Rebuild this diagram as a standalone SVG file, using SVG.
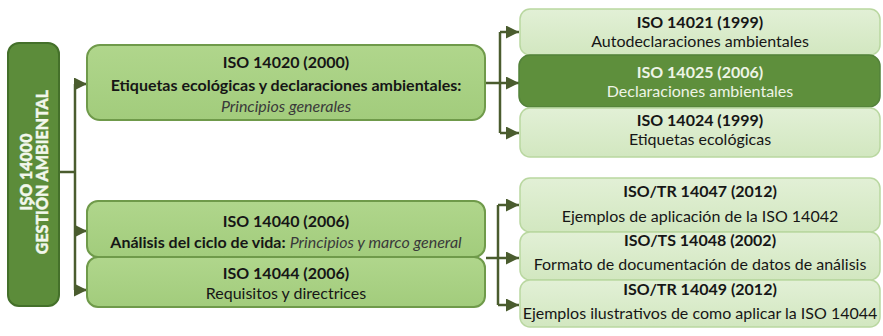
<svg xmlns="http://www.w3.org/2000/svg" width="883" height="336" viewBox="0 0 883 336">
<defs>
<style>
.t{font-family:Lato,"Open Sans","Liberation Sans",sans-serif;font-size:16px;fill:#161616;text-anchor:middle}
.b{font-weight:bold}
.i{font-style:italic;fill:#3a3a3a}
.w{fill:#eef4e6}
.r{font-family:Lato,"Open Sans","Liberation Sans",sans-serif;font-size:16px;font-weight:900;fill:#f2f7ec;stroke:#f2f7ec;stroke-width:0.4;text-anchor:middle}
.light{fill:url(#gl);stroke:#b9d7a0;stroke-width:1.5}
.mid{fill:url(#gm);stroke:#6f9a4a;stroke-width:2}
.dark{fill:#5e8f3c;stroke:#53823a;stroke-width:1.5}
.root{fill:#5c8c3a;stroke:#44702a;stroke-width:2}
.c{fill:none;stroke:#4a5c2e;stroke-width:2.5}
</style>
<linearGradient id="gl" x1="0" y1="0" x2="0" y2="1">
<stop offset="0" stop-color="#e2f0d6"/><stop offset="1" stop-color="#d2e7c0"/>
</linearGradient>
<linearGradient id="gm" x1="0" y1="0" x2="0" y2="1">
<stop offset="0" stop-color="#b0d68c"/><stop offset="1" stop-color="#a2cc7c"/>
</linearGradient>
<marker id="ah" markerUnits="userSpaceOnUse" markerWidth="13" markerHeight="13" viewBox="0 0 13 13" refX="13" refY="6.5" orient="auto">
<path d="M0,0 L13,6.5 L0,13 Z" fill="#4a5c2e"/>
</marker>
</defs>
<rect width="883" height="336" fill="#ffffff"/>

<g id="connectors">
<path class="c" d="M59,172 H75"/>
<path class="c" d="M75,84 V290"/>
<path class="c" d="M75,84 H87" marker-end="url(#ah)"/>
<path class="c" d="M75,231 H87" marker-end="url(#ah)"/>
<path class="c" d="M75,290 H87" marker-end="url(#ah)"/>
<path class="c" d="M486,83 H500"/>
<path class="c" d="M500,32 V133"/>
<path class="c" d="M500,32 H519" marker-end="url(#ah)"/>
<path class="c" d="M500,83 H519" marker-end="url(#ah)"/>
<path class="c" d="M500,133 H519" marker-end="url(#ah)"/>
<path class="c" d="M486,258 H498"/>
<path class="c" d="M498,205 V305"/>
<path class="c" d="M498,205 H519" marker-end="url(#ah)"/>
<path class="c" d="M498,258 H519" marker-end="url(#ah)"/>
<path class="c" d="M498,305 H519" marker-end="url(#ah)"/>
</g>

<g id="iso14000">
<rect class="root" x="8" y="43" width="51" height="263" rx="11"/>
<text class="r" transform="translate(32,172) rotate(-90)">ISO 14000</text>
<text class="r" transform="translate(48,172) rotate(-90)">GESTIÓN AMBIENTAL</text>
</g>

<g id="iso14020">
<rect class="mid" x="87" y="45" width="398" height="75" rx="13"/>
<text class="t b" x="286" y="68">ISO 14020 (2000)</text>
<text class="t b" x="286" y="91">Etiquetas ecológicas y declaraciones ambientales:</text>
<text class="t i" x="286" y="112">Principios generales</text>
</g>

<g id="iso14040">
<rect class="mid" x="87" y="201" width="398" height="56" rx="11"/>
<text class="t b" x="286" y="227">ISO 14040 (2006)</text>
<text class="t" x="286" y="248"><tspan class="b">Análisis del ciclo de vida:</tspan> <tspan class="i">Principios y marco general</tspan></text>
</g>

<g id="iso14044">
<rect class="mid" x="87" y="257" width="398" height="50" rx="11"/>
<text class="t b" x="286" y="279">ISO 14044 (2006)</text>
<text class="t" x="286" y="298.5">Requisitos y directrices</text>
</g>

<g id="iso14021">
<rect class="light" x="520" y="9" width="360" height="46" rx="10"/>
<text class="t b" x="700" y="27.5">ISO 14021 (1999)</text>
<text class="t" x="700" y="47">Autodeclaraciones ambientales</text>
</g>

<g id="iso14025">
<rect class="dark" x="519" y="55" width="361" height="52" rx="11"/>
<text class="t b w" x="700" y="77.5">ISO 14025 (2006)</text>
<text class="t w" x="700" y="97">Declaraciones ambientales</text>
</g>

<g id="iso14024">
<rect class="light" x="520" y="108" width="360" height="49" rx="10"/>
<text class="t b" x="700" y="125.5">ISO 14024 (1999)</text>
<text class="t" x="700" y="145">Etiquetas ecológicas</text>
</g>

<g id="iso14047">
<rect class="light" x="520" y="178" width="360" height="54" rx="10"/>
<text class="t b" x="700" y="197">ISO/TR 14047 (2012)</text>
<text class="t" x="700" y="222">Ejemplos de aplicación de la ISO 14042</text>
</g>

<g id="iso14048">
<rect class="light" x="520" y="232" width="360" height="48" rx="10"/>
<text class="t b" x="700" y="246">ISO/TS 14048 (2002)</text>
<text class="t" x="700" y="270">Formato de documentación de datos de análisis</text>
</g>

<g id="iso14049">
<rect class="light" x="520" y="280" width="360" height="47" rx="10"/>
<text class="t b" x="700" y="295">ISO/TR 14049 (2012)</text>
<text class="t" x="700" y="319">Ejemplos ilustrativos de como aplicar la ISO 14044</text>
</g>
</svg>
